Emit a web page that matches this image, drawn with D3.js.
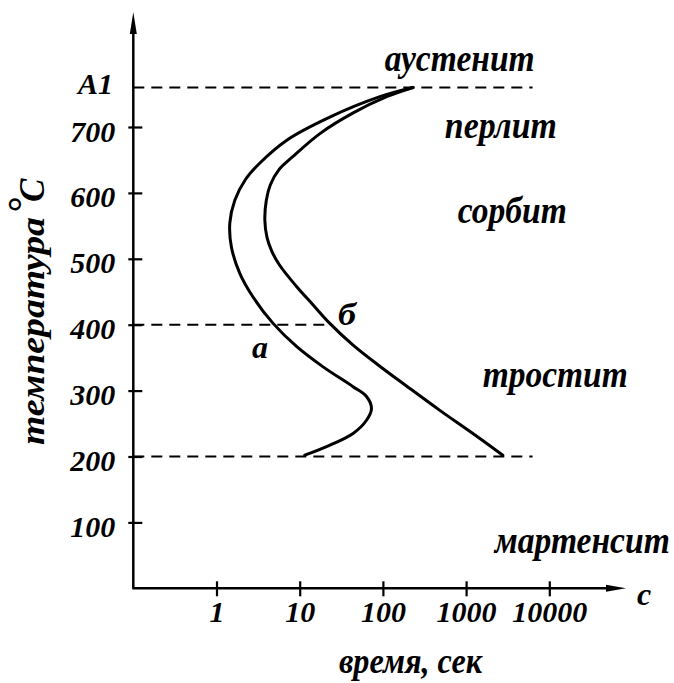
<!DOCTYPE html>
<html>
<head>
<meta charset="utf-8">
<script src="https://cdn.jsdelivr.net/npm/d3@7/dist/d3.min.js"></script>
<style>
  html, body { margin: 0; padding: 0; background: #fff; }
  svg { display: block; }
  text { font-family: "Liberation Serif", "Times New Roman", serif; font-weight: bold; font-style: italic; fill: #000; }
</style>
</head>
<body>
<svg id="chart" width="674" height="683"></svg>
<script>
// ---- data ----
const yTickValues = [100, 200, 300, 400, 500, 600, 700];
const xTickValues = [1, 10, 100, 1000, 10000];
const xTickLabels = ["1", "10", "100", "1000", "10000"];
const A1 = 760;

// curve "a" (start of transformation)
const curveATime = [230, 92, 23, 7.0, 3.3, 2.22, 1.66, 1.445, 1.51, 1.905, 2.75, 4.79, 9.16, 19.1, 43.8, 63.5, 72.9, 63.5, 43.8, 21.0, 11.5];
const curveATemp = [760, 746, 715, 680, 645, 620, 589, 554, 518, 478, 442, 402, 367, 336, 306, 291, 273, 255, 235, 215, 202];

// curve "б" (end of transformation)
const curveBTime = [230, 111, 43.4, 17.5, 8.26, 5.61, 4.43, 3.97, 3.81, 4.05, 4.6, 5.69, 9.16, 14.5, 23.0, 43.8, 91.8, 192, 483, 1171, 2761];
const curveBTemp = [760, 746, 721, 690, 655, 635, 612, 589, 559, 532, 512, 491, 458, 430, 402, 369, 337, 307, 270, 236, 202];

// dashed reference lines
const refTemps = [A1, 400, 200];
const refEndTimes = [6300, 23, 6300];

// region labels
const regionNames = ["аустенит", "перлит", "сорбит", "тростит", "мартенсит"];
const regionTimes = [105, 555, 795, 1585, 2213];
const regionTemps = [785, 683, 554, 306, 54];

// ---- drawing ----
const svg = d3.select("#chart");
const x = d3.scaleLog().domain([0.1, 1e5]).range([133.3, 632.5]);
const y = d3.scaleLinear().domain([0, 800]).range([588.3, 61.1]);

// helper: condensed italic label fitted to a target width
function fitText(str, fs, targetW, tx, ty, rot) {
  const t = svg.append("text").attr("font-size", fs).text(str);
  const w = t.node().getComputedTextLength();
  const sx = targetW / w;
  t.attr("transform", `translate(${tx},${ty})${rot ? ` rotate(${rot})` : ""} scale(${sx},1)`);
  return t;
}

// y axis ticks + labels
const yAxis = d3.axisLeft(y).tickValues(yTickValues).tickSize(5).tickPadding(0).tickFormat(d3.format("d"));
const gy = svg.append("g").attr("transform", `translate(${x(0.1)},0)`).call(yAxis);
gy.select(".domain").remove();
gy.selectAll(".tick line").attr("x1", 9).attr("x2", -5).attr("stroke", "#000").attr("stroke-width", 2.2);
gy.selectAll(".tick text")
  .attr("x", -18).attr("dy", 14)
  .attr("font-size", 30).attr("font-family", null).attr("fill", "#000")
  .attr("text-anchor", "end");

// A1 label
svg.append("text").attr("x", 113).attr("y", y(A1) + 7).attr("text-anchor", "end")
  .attr("font-size", 30).text("A1");

// x axis ticks + labels
const xAxis = d3.axisBottom(x).tickValues(xTickValues).tickSize(7).tickPadding(0)
  .tickFormat((d, i) => xTickLabels[i]);
const gx = svg.append("g").attr("transform", `translate(0,${y(0)})`).call(xAxis);
gx.select(".domain").remove();
gx.selectAll(".tick line").attr("y1", -7).attr("y2", 8).attr("stroke", "#000").attr("stroke-width", 2.2);
gx.selectAll(".tick text")
  .attr("y", 34).attr("dy", 0)
  .attr("font-size", 30).attr("font-family", null).attr("fill", "#000");

// axis lines with arrows
const x0 = x(0.1), y0 = y(0);
svg.append("line").attr("x1", x0).attr("y1", y0).attr("x2", x0).attr("y2", 22)
  .attr("stroke", "#000").attr("stroke-width", 2.5);
svg.append("path").attr("d", `M${x0},12 L${x0 - 3.5},34 L${x0 + 3.5},34 Z`).attr("fill", "#000");
svg.append("line").attr("x1", x0 - 1).attr("y1", y0).attr("x2", 615).attr("y2", y0)
  .attr("stroke", "#000").attr("stroke-width", 2.5);
svg.append("path").attr("d", `M626,${y0} L606,${y0 - 3.5} L606,${y0 + 3.5} Z`).attr("fill", "#000");

// dashed reference lines
refTemps.forEach((t, i) => {
  svg.append("line")
    .attr("x1", x0).attr("x2", x(refEndTimes[i]))
    .attr("y1", y(t)).attr("y2", y(t))
    .attr("stroke", "#000").attr("stroke-width", 2)
    .attr("stroke-dasharray", "11,7");
});

// C-curves
const line = d3.line().x(d => x(d[0])).y(d => y(d[1])).curve(d3.curveCatmullRom.alpha(0.5));
const curveA = curveATime.map((t, i) => [t, curveATemp[i]]);
const curveB = curveBTime.map((t, i) => [t, curveBTemp[i]]);
[curveA, curveB].forEach(c => {
  svg.append("path").attr("d", line(c)).attr("fill", "none")
    .attr("stroke", "#000").attr("stroke-width", 3).attr("stroke-linecap", "round");
});

// curve labels
fitText("а", 32, 16, 252, 358);
fitText("б", 32, 18, 338, 325);

// region labels
const regionWidths = [150, 112, 109, 145, 175];
regionNames.forEach((n, i) => {
  fitText(n, 38, regionWidths[i], x(regionTimes[i]), y(regionTemps[i]));
});

// axis titles
svg.append("text").attr("x", 637).attr("y", 605).attr("font-size", 32).text("c");
fitText("время, сек", 36, 143, 339, 673);

fitText("температура", 33, 228, 44, 445, -90);
svg.append("text").attr("transform", "translate(36,214) rotate(-90)").attr("font-size", 40).attr("font-weight", "normal").attr("font-style", "normal").text("°");
svg.append("text").attr("transform", "translate(44,202) rotate(-90)").attr("font-size", 35).text("C");
</script>
</body>
</html>
